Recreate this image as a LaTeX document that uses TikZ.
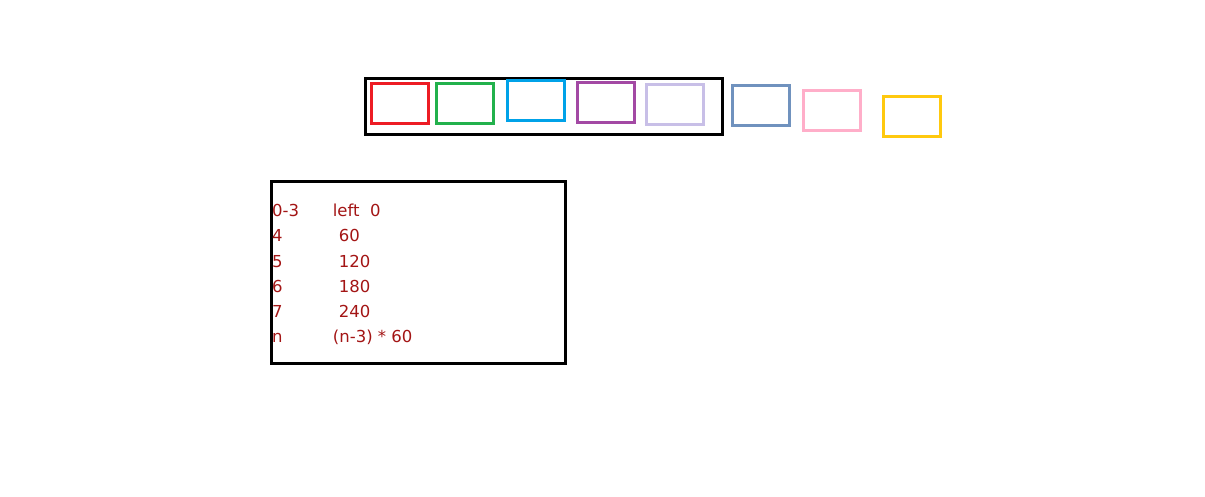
\documentclass[tikz,border=0pt]{standalone}
\usepackage{fontspec}
\setmainfont{DejaVu Sans}
\definecolor{cred}{RGB}{237,28,36}
\definecolor{cgreen}{RGB}{34,177,76}
\definecolor{cblue}{RGB}{0,162,232}
\definecolor{cpurple}{RGB}{163,73,164}
\definecolor{clavender}{RGB}{200,191,231}
\definecolor{cslate}{RGB}{112,146,190}
\definecolor{cpink}{RGB}{255,174,201}
\definecolor{cyellow}{RGB}{255,201,14}
\definecolor{ctext}{RGB}{163,21,21}
\begin{document}
\begin{tikzpicture}[x=1pt, y=-1pt]
	\tikzstyle{cell} = [rectangle, line width=3pt, inner sep=0pt, minimum width=57pt, minimum height=40pt]
	\tikzstyle{frame_box} = [rectangle, draw=black, line width=3pt, inner sep=0pt]
	\tikzstyle{entry} = [anchor=base west, inner sep=0pt, text=ctext, font=\fontsize{16.5}{19}\selectfont]

	\useasboundingbox (0,0) rectangle (1205,497);

%------------------------------------------------------------
	\node[frame_box, minimum width=357pt, minimum height=56pt] (frame) at (543.5,106.2) {};

	\node[cell, draw=cred]      (c1) at (399.5,103.7) {};
	\node[cell, draw=cgreen]    (c2) at (465.3,103.7) {};
	\node[cell, draw=cblue]     (c3) at (535.5,100.4) {};
	\node[cell, draw=cpurple]   (c4) at (605.8,102.5) {};
	\node[cell, draw=clavender] (c5) at (674.8,104.5) {};
%------------------------------------------------------------

	\node[cell, draw=cslate]  (c6) at (761,105.3) {};
	\node[cell, draw=cpink]   (c7) at (832.4,110.5) {};
	\node[cell, draw=cyellow] (c8) at (912,116.4) {};

%------------------------------------------------------------

	\node[frame_box, minimum width=293.7pt, minimum height=182pt] (tbl) at (418.3,272.5) {};

	\node[entry] (k0) at (272,216.7) {0-3};
	\node[entry] (k1) at (272,241.9) {4};
	\node[entry] (k2) at (272,267.1) {5};
	\node[entry] (k3) at (272,292.3) {6};
	\node[entry] (k4) at (272,317.5) {7};
	\node[entry] (k5) at (272,342.7) {n};

	\node[entry] (v0) at (332.7,216.7) {left\ \ 0};
	\node[entry] (v1) at (338.7,241.9) {60};
	\node[entry] (v2) at (338.7,267.1) {120};
	\node[entry] (v3) at (338.7,292.3) {180};
	\node[entry] (v4) at (338.7,317.5) {240};
	\node[entry] (v5) at (332.7,342.7) {(n-3) * 60};

\end{tikzpicture}
\end{document}
